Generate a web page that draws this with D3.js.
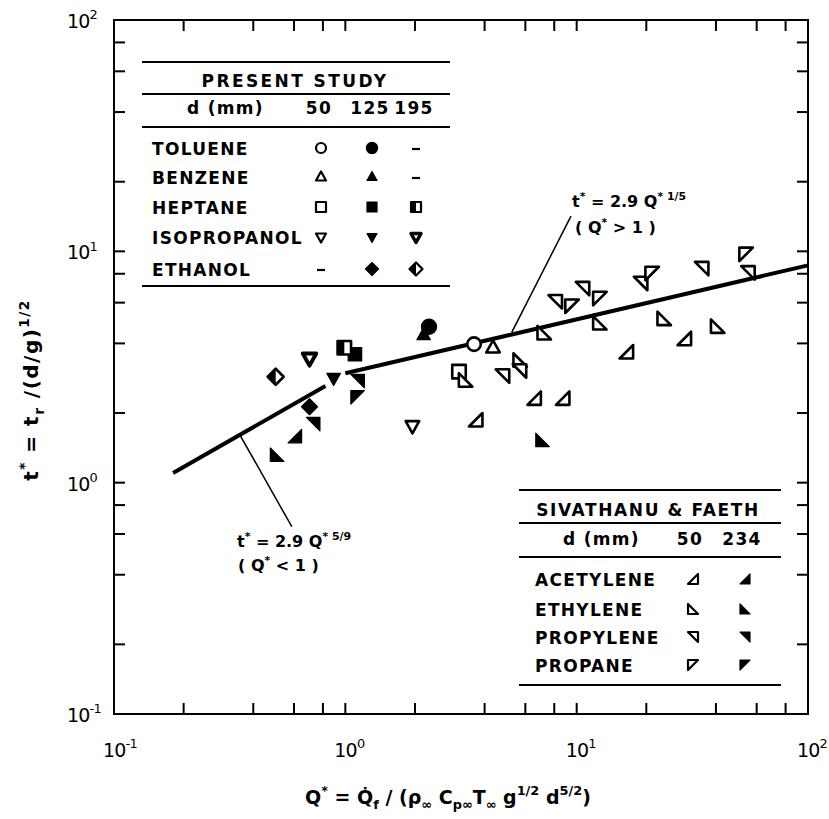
<!DOCTYPE html>
<meta charset="utf-8">
<html>
<head>
    <title>Radiation time scale vs Q*</title>
    <script src="https://d3js.org/d3.v7.min.js"></script>
    <style>
        body { margin: 0; background: #fff; }
        text { font-family: "DejaVu Sans", sans-serif; fill: #000; }
        .lg { font-weight: bold; font-size: 17px; letter-spacing: 1.3px; }
        .ann { font-weight: bold; font-size: 16px; }
        .tick-lab { font-size: 19px; letter-spacing: -0.8px; }
        .axis-title { font-weight: bold; }
    </style>
</head>
<body>
<script>
    // ---- data: [Q*, t*, d (mm)] ----
    // present study
    var toluene     = [[3.60, 3.97, 50], [2.30, 4.72, 125]];
    var benzene     = [[4.35, 3.83, 50], [2.18, 4.35, 125]];
    var heptane     = [[3.10, 3.02, 50], [1.10, 3.59, 125], [0.99, 3.83, 195]];
    var isopropanol = [[1.95, 1.76, 50], [0.89, 2.83, 125], [0.70, 3.45, 195]];
    var ethanol     = [[0.70, 2.13, 125], [0.50, 2.87, 195]];

    // Sivathanu & Faeth
    var acetylene = [[6.55, 2.32, 50], [8.70, 2.32, 50], [3.66, 1.87, 50], [29.2, 4.20, 50],
                     [16.4, 3.68, 50], [0.605, 1.59, 234]];
    var ethylene  = [[3.31, 2.78, 50], [5.70, 3.39, 50], [12.6, 4.91, 50], [7.24, 4.45, 50],
                     [23.9, 5.13, 50], [40.7, 4.75, 50], [0.507, 1.32, 234], [7.12, 1.53, 234]];
    var propylene = [[4.78, 2.89, 50], [5.66, 3.04, 50], [34.7, 8.42, 50], [55.0, 8.07, 50],
                     [18.9, 7.26, 50], [10.6, 6.90, 50], [8.08, 6.05, 50], [1.13, 2.75, 234],
                     [0.726, 1.79, 234]];
    var propane   = [[54.0, 9.70, 50], [21.2, 8.02, 50], [9.55, 5.79, 50], [12.6, 6.25, 50],
                     [1.13, 2.34, 234]];

    // correlation lines (end points)
    var fitLow  = [[0.18, 1.10], [0.82, 2.62]];
    var fitHigh = [[1.0, 2.97], [100, 8.7]];
    // leader lines to the labels
    var leaderLow  = [[0.350, 1.61], [0.587, 0.645]];
    var leaderHigh = [[5.24, 4.46], [9.45, 14.2]];

    // axes
    var decades = [0.1, 1, 10, 100];
    var decadeExp = ["-1", "0", "1", "2"];
    var minorMult = [2, 4, 6, 8];

    // legend tables
    var presentRows = ["TOLUENE", "BENZENE", "HEPTANE", "ISOPROPANOL", "ETHANOL"];
    var presentCols = ["50", "125", "195"];
    var presentCells = [[1, 1, 0], [1, 1, 0], [1, 1, 1], [1, 1, 1], [0, 1, 1]];
    var sfRows = ["ACETYLENE", "ETHYLENE", "PROPYLENE", "PROPANE"];
    var sfCols = ["50", "234"];

    var width = 829, height = 819;
    var plotL = 114, plotR = 808, plotT = 20, plotB = 714;

    var svg = d3.select("body").append("svg")
        .attr("width", width)
        .attr("height", height);

    var x = d3.scaleLog().domain([0.1, 100]).range([plotL, plotR]);
    var y = d3.scaleLog().domain([0.1, 100]).range([plotB, plotT]);

    // builds text made of normal / sup / sub pieces
    function rich(t, parts, size) {
        var cur = 0;
        parts.forEach(function (p) {
            var off = p[1] == "sup" ? -0.45 * size : (p[1] == "sub" ? 0.28 * size : 0);
            t.append("tspan")
                .attr("dy", off - cur)
                .style("font-size", (p[1] == "n" ? size : size * 0.68) + "px")
                .text(p[0]);
            cur = off;
        });
        return t;
    }

    function shapePath(shape, s) {
        var h = s / 2;
        var pts;
        if (shape == "circle") {
            return "M" + (-h) + ",0A" + h + "," + h + " 0 1,0 " + h + ",0A" + h + "," + h + " 0 1,0 " + (-h) + ",0Z";
        }
        if (shape == "triUp") pts = [[0, -0.55 * s], [h, 0.35 * s], [-h, 0.35 * s]];
        if (shape == "triDown") pts = [[0, 0.55 * s], [h, -0.35 * s], [-h, -0.35 * s]];
        if (shape == "square") pts = [[-h, -h], [h, -h], [h, h], [-h, h]];
        if (shape == "diamond") pts = [[0, -h], [h, 0], [0, h], [-h, 0]];
        if (shape == "rtBR") pts = [[h, -h], [h, h], [-h, h]];       // acetylene
        if (shape == "rtBL") pts = [[-h, -h], [-h, h], [h, h]];      // ethylene
        if (shape == "rtTR") pts = [[-h, -h], [h, -h], [h, h]];      // propylene
        if (shape == "rtTL") pts = [[-h, -h], [h, -h], [-h, h]];     // propane
        return "M" + pts.map(function (p) { return p[0] + "," + p[1]; }).join("L") + "Z";
    }

    function halfPath(shape, s) {
        var h = s / 2;
        if (shape == "square") return "M" + (-h) + "," + (-h) + "L0," + (-h) + "L0," + h + "L" + (-h) + "," + h + "Z";
        if (shape == "diamond") return "M" + (-h) + ",0L0," + (-h) + "L0," + h + "Z";
        return null;
    }

    // style: "open" for 50 mm, "filled" for 125/234, "half" for 195
    function styleOf(d) {
        if (d == 50) return "open";
        if (d == 195) return "half";
        return "filled";
    }

    function marker(g, shape, style, s, cx, cy, sw) {
        var m = g.append("g").attr("transform", "translate(" + cx + "," + cy + ")");
        if (style == "filled") {
            var ss = shape == "circle" ? s * 1.12 : s;
            m.append("path").attr("d", shapePath(shape, ss))
                .attr("fill", "#000").attr("stroke", "#000").attr("stroke-width", 1.2)
                .attr("stroke-linejoin", "round");
        } else {
            m.append("path").attr("d", shapePath(shape, s))
                .attr("fill", "#fff").attr("stroke", "#000")
                .attr("stroke-width", style == "half" && shape == "triDown" ? sw + 1.3 : sw)
                .attr("stroke-linejoin", "round");
            if (style == "half" && halfPath(shape, s)) {
                m.append("path").attr("d", halfPath(shape, s)).attr("fill", "#000");
            }
        }
    }

    // ---- frame and ticks ----
    svg.append("rect")
        .attr("x", plotL).attr("y", plotT)
        .attr("width", plotR - plotL).attr("height", plotB - plotT)
        .attr("fill", "none").attr("stroke", "#000").attr("stroke-width", 2);

    var tickVals = [];
    decades.forEach(function (dv, i) {
        tickVals.push(dv);
        if (i < decades.length - 1) minorMult.forEach(function (m) { tickVals.push(dv * m); });
    });
    var tl = 11;
    var ticks = svg.append("g").attr("stroke", "#000").attr("stroke-width", 2);
    tickVals.forEach(function (v) {
        ticks.append("line").attr("x1", x(v)).attr("x2", x(v)).attr("y1", plotB).attr("y2", plotB - tl);
        ticks.append("line").attr("x1", x(v)).attr("x2", x(v)).attr("y1", plotT).attr("y2", plotT + tl);
        ticks.append("line").attr("y1", y(v)).attr("y2", y(v)).attr("x1", plotL).attr("x2", plotL + tl);
        ticks.append("line").attr("y1", y(v)).attr("y2", y(v)).attr("x1", plotR).attr("x2", plotR - tl);
    });

    // tick labels
    decades.forEach(function (dv, i) {
        rich(svg.append("text").attr("class", "tick-lab")
            .attr("x", x(dv) - 11).attr("y", 757), [["10", "n"], [decadeExp[i], "sup"]], 19);
        rich(svg.append("text").attr("class", "tick-lab")
            .attr("x", 67).attr("y", y(dv) + 8), [["10", "n"], [decadeExp[i], "sup"]], 19);
    });

    // axis titles
    rich(svg.append("text").attr("class", "axis-title")
        .attr("text-anchor", "middle")
        .style("letter-spacing", "1.5px")
        .attr("transform", "translate(38,390) rotate(-90)"),
        [["t", "n"], ["*", "sup"], [" = t", "n"], ["r", "sub"], [" /(d/g)", "n"], ["1/2", "sup"]], 20);

    rich(svg.append("text").attr("class", "axis-title")
        .attr("text-anchor", "middle")
        .attr("x", 448).attr("y", 804),
        [["Q", "n"], ["*", "sup"], [" = Q\u0307", "n"], ["f", "sub"], [" / (\u03c1", "n"], ["\u221e", "sub"],
         [" C", "n"], ["p\u221e", "sub"], ["T", "n"], ["\u221e", "sub"], [" g", "n"], ["1/2", "sup"],
         [" d", "n"], ["5/2", "sup"], [")", "n"]], 19);

    // ---- correlation lines ----
    var line = d3.line()
        .x(function (d) { return x(d[0]); })
        .y(function (d) { return y(d[1]); });

    [fitLow, fitHigh].forEach(function (f) {
        svg.append("path").attr("d", line(f))
            .attr("fill", "none").attr("stroke", "#000").attr("stroke-width", 4);
    });
    [leaderLow, leaderHigh].forEach(function (f) {
        svg.append("path").attr("d", line(f))
            .attr("fill", "none").attr("stroke", "#000").attr("stroke-width", 1.5);
    });

    rich(svg.append("text").attr("class", "ann").attr("x", 572).attr("y", 207),
        [["t", "n"], ["*", "sup"], [" = 2.9 Q", "n"], ["* 1/5", "sup"]], 16);
    rich(svg.append("text").attr("class", "ann").attr("x", 575).attr("y", 233),
        [["( Q", "n"], ["*", "sup"], ["  > 1 )", "n"]], 16);
    rich(svg.append("text").attr("class", "ann").attr("x", 237).attr("y", 547),
        [["t", "n"], ["*", "sup"], [" = 2.9 Q", "n"], ["* 5/9", "sup"]], 16);
    rich(svg.append("text").attr("class", "ann").attr("x", 238).attr("y", 571),
        [["( Q", "n"], ["*", "sup"], ["  < 1 )", "n"]], 16);

    // ---- data points ----
    var series = [
        [toluene, "circle"], [benzene, "triUp"], [heptane, "square"],
        [isopropanol, "triDown"], [ethanol, "diamond"],
        [acetylene, "rtBR"], [ethylene, "rtBL"], [propylene, "rtTR"], [propane, "rtTL"]
    ];
    var pts = svg.append("g");
    series.forEach(function (s) {
        s[0].forEach(function (d) {
            var sz = s[1] == "diamond" ? 16 : 13.5;
            marker(pts, s[1], styleOf(d[2]), sz, x(d[0]), y(d[1]), 2.6);
        });
    });

    // ---- legend: present study ----
    function rule(g, x1, x2, yy) {
        g.append("line").attr("x1", x1).attr("x2", x2).attr("y1", yy).attr("y2", yy)
            .attr("stroke", "#000").attr("stroke-width", 2);
    }

    var lg1 = svg.append("g");
    rule(lg1, 142, 450, 62);
    rule(lg1, 142, 450, 94);
    rule(lg1, 142, 450, 127);
    rule(lg1, 142, 450, 286);
    lg1.append("text").attr("class", "lg").attr("x", 295).attr("y", 87)
        .style("letter-spacing", "2.4px")
        .attr("text-anchor", "middle").text("PRESENT  STUDY");
    lg1.append("text").attr("class", "lg").attr("x", 187).attr("y", 114).text("d (mm)");
    var col1 = [319, 370, 414];
    presentCols.forEach(function (c, i) {
        lg1.append("text").attr("class", "lg").attr("x", col1[i]).attr("y", 114)
            .attr("text-anchor", "middle").text(c);
    });
    var row1 = [148, 177, 207, 237, 269];
    var shapes1 = ["circle", "triUp", "square", "triDown", "diamond"];
    var dOf1 = [50, 125, 195];
    presentRows.forEach(function (r, i) {
        lg1.append("text").attr("class", "lg").attr("x", 152).attr("y", row1[i] + 7).text(r);
        presentCells[i].forEach(function (has, j) {
            if (has) {
                marker(lg1, shapes1[i], styleOf(dOf1[j]), shapes1[i] == "diamond" ? 13 : 10, col1[j] + 2, row1[i], 2.2);
            } else {
                lg1.append("line").attr("x1", col1[j] - 2).attr("x2", col1[j] + 6)
                    .attr("y1", row1[i] + 1).attr("y2", row1[i] + 1)
                    .attr("stroke", "#000").attr("stroke-width", 2.2);
            }
        });
    });

    // ---- legend: Sivathanu & Faeth ----
    var lg2 = svg.append("g");
    rule(lg2, 519, 781, 490);
    rule(lg2, 519, 781, 523);
    rule(lg2, 519, 781, 557);
    rule(lg2, 519, 781, 685);
    lg2.append("text").attr("class", "lg").attr("x", 648).attr("y", 516)
        .style("letter-spacing", "1.6px")
        .attr("text-anchor", "middle").text("SIVATHANU  &  FAETH");
    lg2.append("text").attr("class", "lg").attr("x", 563).attr("y", 545).text("d (mm)");
    var col2 = [690, 742];
    sfCols.forEach(function (c, i) {
        lg2.append("text").attr("class", "lg").attr("x", col2[i]).attr("y", 545)
            .attr("text-anchor", "middle").text(c);
    });
    var row2 = [579, 609, 637, 665];
    var shapes2 = ["rtBR", "rtBL", "rtTR", "rtTL"];
    var dOf2 = [50, 234];
    sfRows.forEach(function (r, i) {
        lg2.append("text").attr("class", "lg").attr("x", 535).attr("y", row2[i] + 7).text(r);
        dOf2.forEach(function (dd, j) {
            marker(lg2, shapes2[i], styleOf(dd), 10, col2[j] + 3, row2[i], 2.2);
        });
    });
</script>
</body>
</html>
